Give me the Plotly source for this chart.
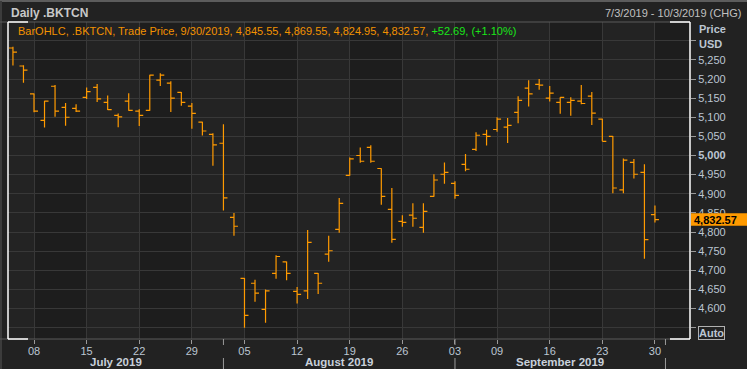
import plotly.graph_objects as go

# ---------------- data ----------------
dates = [
    "2019-07-03", "2019-07-05", "2019-07-08", "2019-07-09", "2019-07-10", "2019-07-11", "2019-07-12",
    "2019-07-15", "2019-07-16", "2019-07-17", "2019-07-18", "2019-07-19",
    "2019-07-22", "2019-07-23", "2019-07-24", "2019-07-25", "2019-07-26",
    "2019-07-29", "2019-07-30", "2019-07-31",
    "2019-08-01", "2019-08-02", "2019-08-05", "2019-08-06", "2019-08-07", "2019-08-08", "2019-08-09",
    "2019-08-12", "2019-08-13", "2019-08-14", "2019-08-15", "2019-08-16",
    "2019-08-19", "2019-08-20", "2019-08-21", "2019-08-22", "2019-08-23",
    "2019-08-26", "2019-08-27", "2019-08-28", "2019-08-29", "2019-08-30",
    "2019-09-03", "2019-09-04", "2019-09-05", "2019-09-06",
    "2019-09-09", "2019-09-10", "2019-09-11", "2019-09-12", "2019-09-13",
    "2019-09-16", "2019-09-17", "2019-09-18", "2019-09-19", "2019-09-20",
    "2019-09-23", "2019-09-24", "2019-09-25", "2019-09-26", "2019-09-27",
    "2019-09-30",
]
open_ = [5281, 5234, 5161, 5092, 5181, 5126, 5123, 5152, 5178, 5139, 5105, 5142, 5116, 5118, 5197, 5189, 5165,
         5129, 5087, 5055, 5032, 4838, 4679, 4666, 4598, 4692, 4722, 4645, 4646, 4692, 4742, 4807, 4948, 5000,
         5021, 4966, 4859, 4828, 4844, 4812, 4893, 4951, 4927, 4977, 5016, 5055, 5068, 5074, 5113, 5176, 5186,
         5150, 5139, 5139, 5142, 5155, 5095, 5050, 4910, 4982, 4956, 4845.55]
high = [5284, 5236, 5162, 5143, 5184, 5137, 5134, 5178, 5187, 5157, 5110, 5163, 5121, 5211, 5215, 5194, 5166,
        5137, 5088, 5058, 5082, 4850, 4680, 4675, 4650, 4739, 4723, 4656, 4805, 4693, 4790, 4889, 4995, 5021,
        5027, 4967, 4915, 4844, 4875, 4875, 4951, 4982, 4933, 5004, 5061, 5067, 5100, 5098, 5155, 5197, 5200,
        5182, 5152, 5152, 5184, 5166, 5096, 5051, 4992, 4991, 4977, 4869.55]
low = [5235, 5190, 5113, 5073, 5101, 5078, 5114, 5148, 5140, 5119, 5074, 5117, 5077, 5117, 5182, 5114, 5130,
       5070, 5052, 4973, 4856, 4790, 4550, 4618, 4563, 4678, 4674, 4613, 4625, 4638, 4722, 4798, 4947, 4981,
       4981, 4871, 4772, 4814, 4814, 4798, 4892, 4926, 4887, 4959, 5012, 5026, 5062, 5033, 5084, 5128, 5172,
       5141, 5109, 5104, 5134, 5080, 5037, 4901, 4901, 4940, 4730, 4824.95]
close = [5270, 5223, 5116, 5142, 5116, 5100, 5116, 5167, 5148, 5120, 5101, 5118, 5105, 5210, 5210, 5150, 5139,
         5110, 5064, 5028, 4889, 4815, 4582, 4640, 4646, 4736, 4692, 4637, 4773, 4666, 4751, 4875, 4991, 4985,
         4985, 4893, 4781, 4825, 4836, 4854, 4936, 4956, 4896, 4964, 5053, 5050, 5095, 5079, 5144, 5161, 5184,
         5163, 5152, 5144, 5136, 5111, 5037, 4915, 4988, 4951, 4779.88, 4832.57]

day_ticks = ["2019-07-08", "2019-07-15", "2019-07-22", "2019-07-29", "2019-08-05", "2019-08-12", "2019-08-19",
             "2019-08-26", "2019-09-03", "2019-09-09", "2019-09-16", "2019-09-23", "2019-09-30"]
day_labels = ["08", "15", "22", "29", "05", "12", "19", "26", "03", "09", "16", "23", "30"]
month_labels = ["July 2019", "August 2019", "September 2019"]
month_starts = ["2019-08-01", "2019-09-03"]  # first trading day of Aug and Sep
price_ticks = [4550, 4600, 4650, 4700, 4750, 4800, 4850, 4900, 4950, 5000, 5050, 5100, 5150, 5200, 5250, 5300]

# ---------------- derived positions ----------------
idx = list(range(len(dates)))
pos = {d: i for i, d in enumerate(dates)}
tick_x = [pos[d] for d in day_ticks]
month_x = [pos[d] for d in month_starts] + [len(dates)]  # October boundary after last bar

X0, X1 = -0.47, 64.33
Y0, Y1 = 4520.3, 5349.0

def fmt(v):
    s = f"{v:,.0f}"
    return "<b>" + s + "</b>" if v == 5000 else s

ticktext = ["" if v in (4550, 5300) else fmt(v) for v in price_ticks]

ORANGE = "#ff9a00"
LBL = "#bcc6d2"
GRID = "#383838"

fig = go.Figure()
fig.add_trace(go.Ohlc(
    x=idx, open=open_, high=high, low=low, close=close,
    increasing=dict(line=dict(color=ORANGE, width=1.2)),
    decreasing=dict(line=dict(color=ORANGE, width=1.2)),
    tickwidth=0.38, showlegend=False, hoverinfo="skip",
))

shapes = []
# alternating weekly background bands
edges = [X0] + tick_x + [X1]
for k in range(len(edges) - 1):
    if k % 2 == 1:
        shapes.append(dict(type="rect", xref="x", yref="paper", x0=edges[k], x1=edges[k + 1], y0=0, y1=1,
                           fillcolor="#1d1d1d", line=dict(width=0), layer="below"))
# window border (top and left)
shapes.append(dict(type="line", xref="paper", yref="paper", x0=-8 / 682, x1=739 / 682,
                   y0=(339 - 1) / 317, y1=(339 - 1) / 317, line=dict(color="#5c5c5c", width=2)))
shapes.append(dict(type="line", xref="paper", yref="paper", x0=-7 / 682, x1=-7 / 682,
                   y0=-30 / 317, y1=(339 - 1) / 317, line=dict(color="#3c3c3c", width=2)))
# frame: gray top/bottom, white sides and corner brackets
for yy in (0, 1):
    shapes.append(dict(type="line", xref="paper", yref="paper", x0=-8 / 682, x1=1, y0=yy, y1=yy,
                       line=dict(color="#5a5a5a", width=1)))
for xx in (0, 1):
    shapes.append(dict(type="line", xref="paper", yref="paper", x0=xx, x1=xx, y0=0, y1=1,
                       line=dict(color="#ffffff", width=1.5)))
cw = 20 / 682
for yy in (0, 1):
    shapes.append(dict(type="line", xref="paper", yref="paper", x0=0, x1=cw, y0=yy, y1=yy,
                       line=dict(color="#ffffff", width=1.5)))
    shapes.append(dict(type="line", xref="paper", yref="paper", x0=1 - cw, x1=1, y0=yy, y1=yy,
                       line=dict(color="#ffffff", width=1.5)))
# month separators
for mx in month_x:
    shapes.append(dict(type="line", xref="x", yref="paper", x0=mx, x1=mx, y0=0, y1=-6 / 317,
                       line=dict(color="#9a9a9a", width=1)))
    shapes.append(dict(type="line", xref="x", yref="paper", x0=mx, x1=mx, y0=-19 / 317, y1=-31 / 317,
                       line=dict(color="#9a9a9a", width=1)))
# last price box
last = close[-1]
shapes.append(dict(type="rect", xref="paper", yref="y", x0=683 / 682, x1=739 / 682,
                   y0=last - 16.5, y1=last + 16.5, fillcolor="#ff9a00", line=dict(width=0), layer="above"))

ann = []
ann.append(dict(xref="paper", yref="paper", x=1 / 682, y=(339 - 13) / 317, xanchor="left", yanchor="middle",
                text="<b>Daily .BKTCN</b>", showarrow=False, font=dict(size=12, color="#c8c8c8")))
ann.append(dict(xref="paper", yref="paper", x=735 / 682, y=(339 - 13) / 317, xanchor="right", yanchor="middle",
                text="7/3/2019 - 10/3/2019 (CHG)", showarrow=False, font=dict(size=11, color="#c0c0c0")))
chg = close[-1] - close[-2]
pct = chg / close[-2] * 100
hdr = (f"BarOHLC, .BKTCN, Trade Price, 9/30/2019, {open_[-1]:,.2f}, {high[-1]:,.2f}, {low[-1]:,.2f}, "
       f"{close[-1]:,.2f}, <span style='color:#19e619'>{chg:+.2f}, ({pct:+.2f}%)</span>")
ann.append(dict(xref="paper", yref="paper", x=7.5 / 682, y=(339 - 31) / 317, xanchor="left", yanchor="middle",
                text=hdr, showarrow=False, font=dict(size=11, color="#f39200")))
ann.append(dict(xref="paper", yref="paper", x=689 / 682, y=(339 - 29) / 317, xanchor="left", yanchor="middle",
                text="<b>Price</b>", showarrow=False, font=dict(size=11, color=LBL)))
ann.append(dict(xref="paper", yref="paper", x=689 / 682, y=(339 - 44) / 317, xanchor="left", yanchor="middle",
                text="<b>USD</b>", showarrow=False, font=dict(size=11, color=LBL)))
ann.append(dict(xref="paper", yref="y", x=684 / 682, y=last, xanchor="left", yanchor="middle",
                text=f"<b>{last:,.2f}</b>", showarrow=False, font=dict(size=11, color="#000000")))
ann.append(dict(xref="paper", yref="paper", x=703.5 / 682, y=(339 - 332.5) / 317, xanchor="center",
                yanchor="middle", text="<b>Auto</b>", showarrow=False, font=dict(size=11, color=LBL),
                bordercolor="#b0b0b0", borderwidth=1, borderpad=0))
# month labels centered in their spans
spans = [(X0, month_x[0]), (month_x[0], month_x[1]), (month_x[1], month_x[2])]
for (a, b), t in zip(spans, month_labels):
    ann.append(dict(xref="x", yref="paper", x=(a + b) / 2, y=-22.5 / 317, xanchor="center", yanchor="middle",
                    text=f"<b>{t}</b>", showarrow=False, font=dict(size=11.5, color="#c8d0da")))

fig.update_layout(
    width=747, height=369,
    margin=dict(l=8, r=57, t=22, b=30),
    paper_bgcolor="#222222", plot_bgcolor="#232323",
    font=dict(family="Liberation Sans, Arial, sans-serif", size=11, color=LBL),
    shapes=shapes, annotations=ann, showlegend=False,
    xaxis=dict(range=[X0, X1], tickmode="array", tickvals=tick_x, ticktext=day_labels,
               showgrid=True, gridcolor=GRID, gridwidth=1, zeroline=False, showline=False,
               ticks="outside", ticklen=4, tickcolor="#9a9a9a", tickfont=dict(size=11, color=LBL),
               ticklabelstandoff=-2,
               rangeslider=dict(visible=False), fixedrange=True),
    yaxis=dict(range=[Y0, Y1], side="right", tickmode="array", tickvals=price_ticks, ticktext=ticktext,
               showgrid=True, gridcolor=GRID, gridwidth=1, zeroline=False, showline=False,
               ticks="outside", ticklen=5, tickcolor="#9a9a9a", tickfont=dict(size=11, color=LBL),
               fixedrange=True),
)

fig.write_html("out.html", config={"displayModeBar": False},
               post_script="document.body.style.margin='0';document.body.style.background='#222222';")
